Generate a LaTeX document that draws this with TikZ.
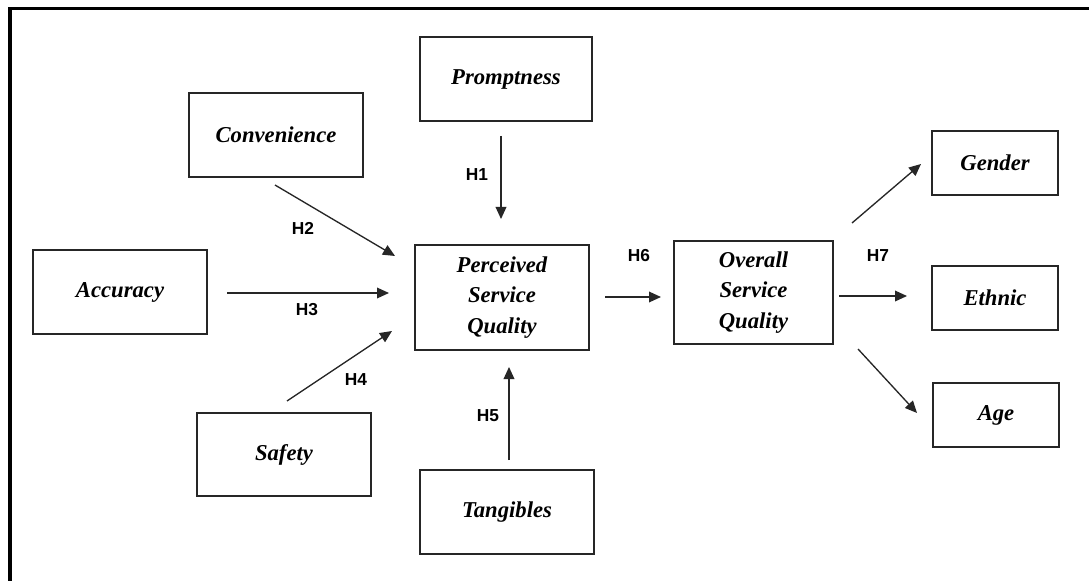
\documentclass[tikz,border=0pt]{standalone}
\usepackage{fontspec}
\setmainfont{Liberation Serif}
\newfontfamily\hlabelfont{Liberation Sans}
\usetikzlibrary{arrows.meta}
\begin{document}
\begin{tikzpicture}[x=0.75pt,y=-0.75pt,
  box/.style={draw=black!85, line width=1.1pt, rectangle, inner sep=0pt, outer sep=0pt,
    align=center, font=\fontsize{17}{23}\selectfont\bfseries\itshape},
  link/.style={draw=black!85, line width=1pt, -{Triangle[length=9pt,width=8pt]}},
  hyp/.style={font=\hlabelfont\fontsize{13}{15}\selectfont\bfseries, inner sep=0pt}]
\useasboundingbox (0,0) rectangle (1089,581);
\fill[white] (0,0) rectangle (1089,581);
% open frame: only the top and left edges lie inside the page
\draw[line width=2.3pt, line cap=rect] (10,600) -- (10,8.5) -- (1100,8.5);

% constructs
\node[box, minimum width=129pt,   minimum height=63pt] (prompt) at (506,79) {Promptness};
\node[box, minimum width=130.5pt, minimum height=63pt] (conv)   at (276,135) {Convenience};
\node[box, minimum width=130.5pt, minimum height=63pt] (acc)    at (120,292) {Accuracy};
\node[box, minimum width=130.5pt, minimum height=62.25pt] (safe) at (284,454.5) {Safety};
\node[box, minimum width=130.5pt, minimum height=63pt] (tang)   at (507,512) {Tangibles};
\node[box, minimum width=130.5pt, minimum height=78.75pt] (perc) at (502,297.5) {Perceived\\Service\\Quality};
\node[box, minimum width=119.25pt, minimum height=77.25pt] (over) at (753.5,292.5) {Overall\\Service\\Quality};
\node[box, minimum width=94.5pt, minimum height=48pt] (gender) at (995,163) {Gender};
\node[box, minimum width=94.5pt, minimum height=48pt] (ethnic) at (995,298) {Ethnic};
\node[box, minimum width=94.5pt, minimum height=48pt] (age)    at (996,415) {Age};

% arrow end points
\coordinate (h1s) at (501,136);  \coordinate (h1e) at (501,219);
\coordinate (h2s) at (275,185);  \coordinate (h2e) at (395,256);
\coordinate (h3s) at (227,293);  \coordinate (h3e) at (389,293);
\coordinate (h4s) at (287,401);  \coordinate (h4e) at (392,331);
\coordinate (h5s) at (509,460);  \coordinate (h5e) at (509,367);
\coordinate (h6s) at (605,297);  \coordinate (h6e) at (661,297);
\coordinate (gs)  at (852,223);  \coordinate (ge)  at (921,164);
\coordinate (es)  at (839,296);  \coordinate (ee)  at (907,296);
\coordinate (as)  at (858,349);  \coordinate (ae)  at (917,413);

\draw[link] (h1s) -- (h1e);
\draw[link] (h2s) -- (h2e);
\draw[link] (h3s) -- (h3e);
\draw[link] (h4s) -- (h4e);
\draw[link] (h5s) -- (h5e);
\draw[link] (h6s) -- (h6e);
\draw[link] (gs) -- (ge);
\draw[link] (es) -- (ee);
\draw[link] (as) -- (ae);

% hypothesis labels
\node[hyp] (l1) at (477,175) {H1};
\node[hyp] (l2) at (303,228) {H2};
\node[hyp] (l3) at (307,310) {H3};
\node[hyp] (l4) at (356,380) {H4};
\node[hyp] (l5) at (488,416) {H5};
\node[hyp] (l6) at (639,256) {H6};
\node[hyp] (l7) at (878,256) {H7};
\end{tikzpicture}
\end{document}
